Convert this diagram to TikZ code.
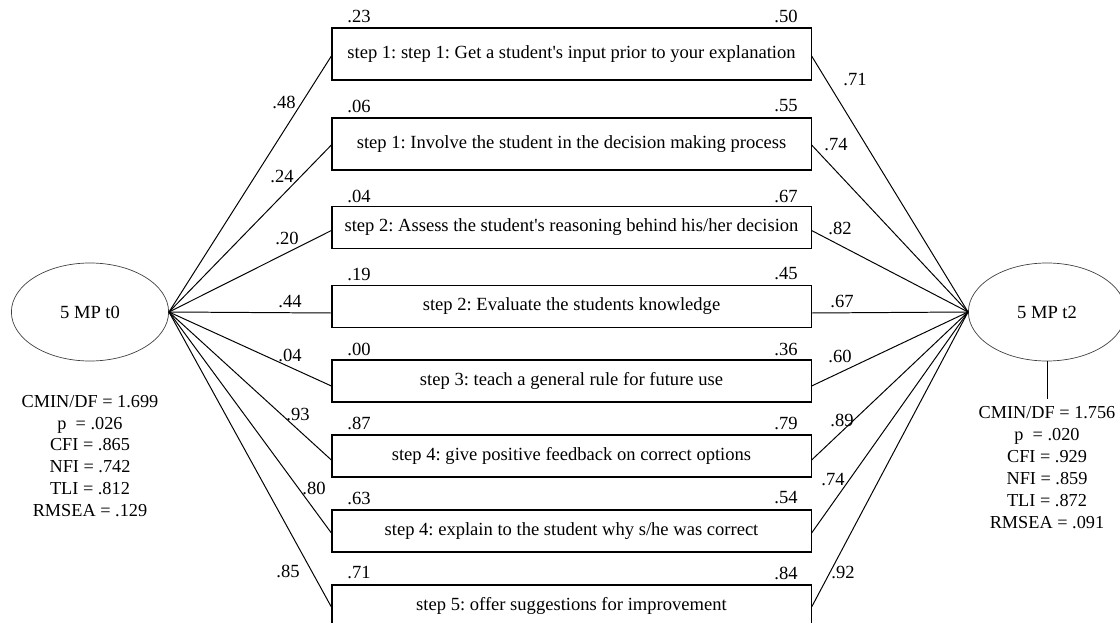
\documentclass[tikz,border=0pt]{standalone}
\usepackage{fontspec}
\setmainfont{Liberation Serif}
\frenchspacing
\usetikzlibrary{shapes.geometric,positioning,calc}
\tikzset{
  txt/.style={font=\fontsize{13.2}{15}\selectfont},
  box/.style={draw,line width=0.8pt,minimum width=11.975cm,minimum height=1.05cm,inner sep=0pt,txt},
  tallbox/.style={box,minimum height=1.3cm},
  lat/.style={ellipse,draw=black!75,line width=0.5pt,minimum width=3.93cm,minimum height=2.45cm,inner sep=0pt,txt},
  ln/.style={line width=0.7pt},
  num/.style={inner sep=0pt,txt},
  fitstat/.style={align=center,inner sep=1pt,font=\fontsize{13}{15.6}\selectfont}
}
\begin{document}
\begin{tikzpicture}[x=0.025cm,y=-0.025cm]
\useasboundingbox (0,0) rectangle (1120,623);
% latent factors
\node[lat] (t0) at (90,312) {5 MP t0};
\node[lat] (t2) at (1047,312) {5 MP t2};
% indicators
\node[tallbox] (s1) at (571.5,54) {step 1: step 1: Get a student\textquotesingle s input prior to your explanation};
\node[tallbox] (s2) at (571.5,144) {step 1: Involve the student in the decision making process};
\node[box] (s3) at (571.5,227.5) {step 2: Assess the student\textquotesingle s reasoning behind his/her decision};
\node[box] (s4) at (571.5,306.5) {step 2: Evaluate the students knowledge};
\node[box] (s5) at (571.5,381) {step 3: teach a general rule for future use};
\node[box] (s6) at (571.5,456) {step 4: give positive feedback on correct options};
\node[box] (s7) at (571.5,531) {step 4: explain to the student why s/he was correct};
\node[box] (s8) at (571.5,606) {step 5: offer suggestions for improvement};
\foreach \i/\d in {1/2,2/1,3/3,4/6.5,5/5,6/4,7/2,8/1} {
  \draw[ln] (t0.east) -- ($(s\i.west)+(0,\d)$);
  \draw[ln] ($(s\i.east)+(0,\d)$) -- (t2.west);
}
% squared multiple correlations
\node[num] at (359,16) {.23}; \node[num] at (786,16) {.50};
\node[num] at (359,106) {.06}; \node[num] at (786,106) {.55};
\node[num] at (359,196) {.04}; \node[num] at (786,196) {.67};
\node[num] at (359,274) {.19}; \node[num] at (786,274) {.45};
\node[num] at (359,349) {.00}; \node[num] at (786,349) {.36};
\node[num] at (359,423) {.87}; \node[num] at (786,423) {.79};
\node[num] at (359,498) {.63}; \node[num] at (786,498) {.54};
\node[num] at (359,573) {.71}; \node[num] at (786,573) {.84};
% loadings t0
\node[num] at (284,102) {.48};
\node[num] at (282,176) {.24};
\node[num] at (287,238) {.20};
\node[num] at (290,302) {.44};
\node[num] at (290,355) {.04};
\node[num] at (298,414) {.93};
\node[num] at (314,488) {.80};
\node[num] at (288,571) {.85};
% loadings t2
\node[num] at (855,80) {.71};
\node[num] at (836,145) {.74};
\node[num] at (840,228) {.82};
\node[num] at (842,301) {.67};
\node[num] at (840,356) {.60};
\node[num] at (842,420) {.89};
\node[num] at (833,480) {.74};
\node[num] at (843,572) {.92};
% fit indices
\node[fitstat] (f0) at (90,456) {CMIN/DF = 1.699\\p\ \ = .026\\CFI = .865\\NFI = .742\\TLI = .812\\RMSEA = .129};
\node[fitstat,anchor=north] (f2) at (1047,405) {CMIN/DF = 1.756\\p\ \ = .020\\CFI = .929\\NFI = .859\\TLI = .872\\RMSEA = .091};
\draw[ln,shorten >=4pt] (t2.south) -- (f2.north);
\end{tikzpicture}
\end{document}
